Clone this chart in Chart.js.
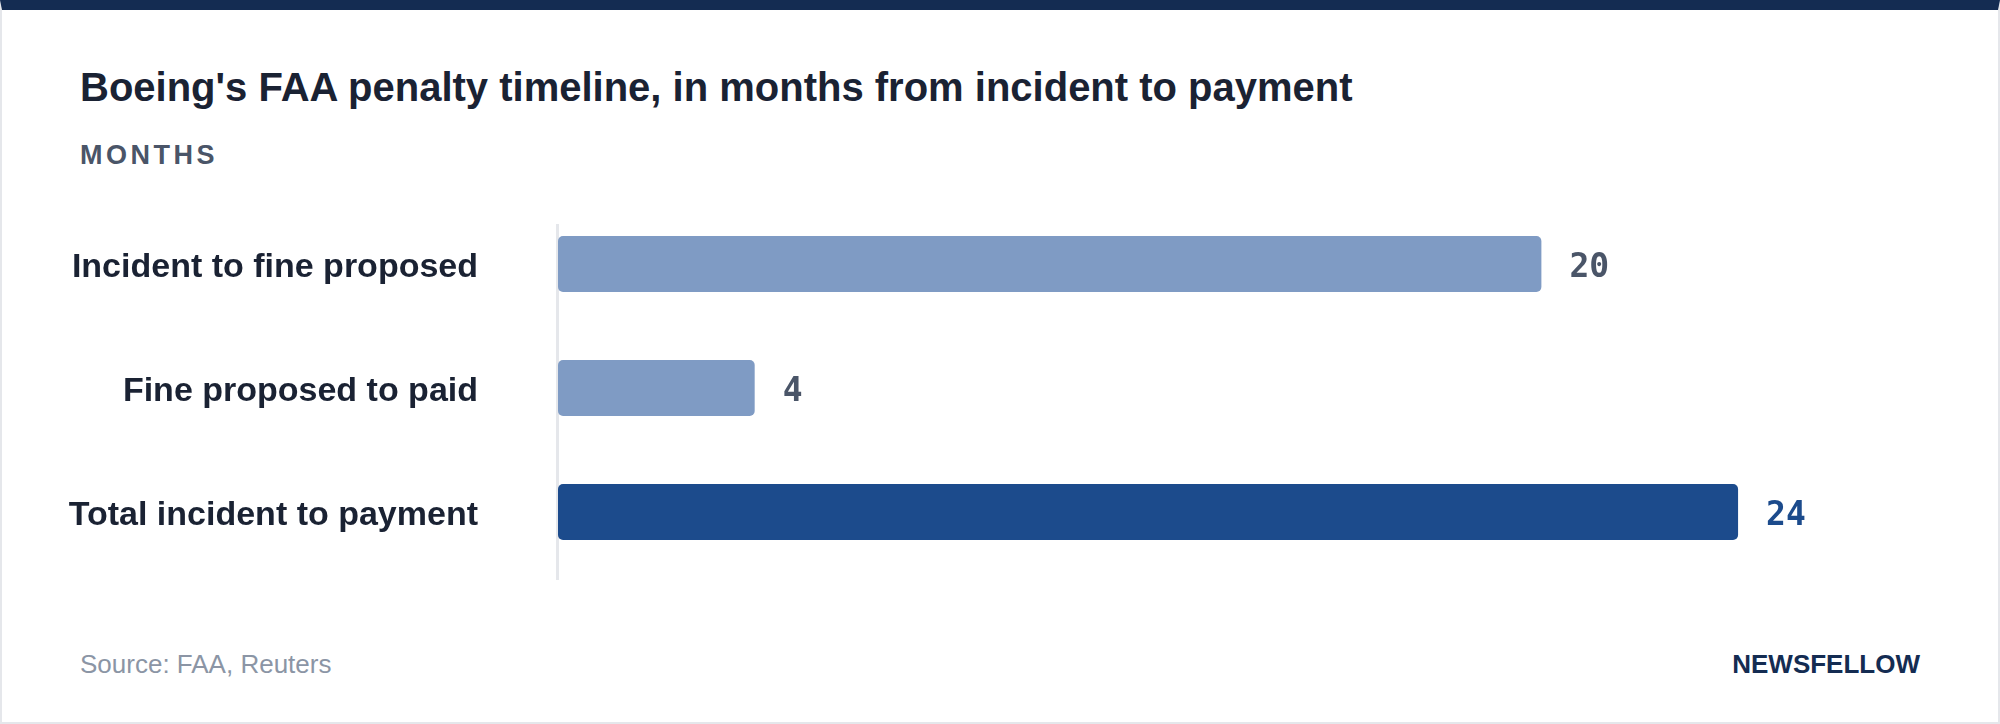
<!DOCTYPE html>
<html>
<head>
<meta charset="utf-8">
<script src="https://cdn.jsdelivr.net/npm/chart.js@4"></script>
<style>
  html, body { margin: 0; padding: 0; background: #fff; }
  .card {
    position: relative; width: 2000px; height: 724px; box-sizing: border-box;
    border: 2px solid #e5e7eb; border-top: 10px solid #142c52; background: #fff;
    font-family: "Liberation Sans", Arial, sans-serif; overflow: hidden;
  }
  .title { position: absolute; left: 78px; top: 57px; font-size: 40px; line-height: 40px; font-weight: 700; color: #1a2233; white-space: nowrap; }
  .sub { position: absolute; left: 78px; top: 132px; font-size: 27px; line-height: 27px; font-weight: 700; color: #4a5568; letter-spacing: 3.5px; }
  #penaltyChart { position: absolute; left: -2px; top: 180px; }
  .source { position: absolute; left: 78px; top: 641px; font-size: 26px; line-height: 26px; color: #8b95a5; }
  .brand { position: absolute; right: 78px; top: 641px; font-size: 26px; line-height: 26px; font-weight: 700; color: #142c52; }
</style>
</head>
<body>
<div class="card">
  <div class="title">Boeing's FAA penalty timeline, in months from incident to payment</div>
  <div class="sub">MONTHS</div>
  <canvas id="penaltyChart" width="2000" height="420"></canvas>
  <div class="source">Source: FAA, Reuters</div>
  <div class="brand">NEWSFELLOW</div>
</div>
<script>
const categories = ["Incident to fine proposed", "Fine proposed to paid", "Total incident to payment"];
const months = [20, 4, 24];

const barFill = ["#7f9bc4", "#7f9bc4", "#1c4b8c"];
const valueInk = ["#4a5568", "#4a5568", "#1c4b8c"];

// value at the end of each bar
const valueLabels = {
  id: "valueLabels",
  afterDatasetsDraw(chart) {
    const ctx = chart.ctx;
    const meta = chart.getDatasetMeta(0);
    ctx.save();
    ctx.font = "bold 33px 'DejaVu Sans Mono', monospace";
    ctx.textBaseline = "middle";
    ctx.textAlign = "left";
    meta.data.forEach((bar, i) => {
      ctx.fillStyle = valueInk[i];
      ctx.fillText(String(months[i]), bar.x + 28, bar.y + 4);
    });
    ctx.restore();
  }
};

// thin baseline on the left of the bars
const axisLine = {
  id: "axisLine",
  beforeDatasetsDraw(chart) {
    const { ctx, chartArea } = chart;
    ctx.save();
    ctx.strokeStyle = "#e5e7eb";
    ctx.lineWidth = 3;
    ctx.beginPath();
    ctx.moveTo(chartArea.left - 0.5, chartArea.top + 22);
    ctx.lineTo(chartArea.left - 0.5, chartArea.bottom + 6);
    ctx.stroke();
    ctx.restore();
  }
};

new Chart(document.getElementById("penaltyChart"), {
  type: "bar",
  data: {
    labels: categories,
    datasets: [{
      data: months,
      backgroundColor: barFill,
      borderRadius: 5,
      borderSkipped: false,
      categoryPercentage: 1,
      barPercentage: 0.45
    }]
  },
  options: {
    indexAxis: "y",
    responsive: false,
    animation: false,
    layout: { padding: { top: 12, bottom: 36, right: 80, left: 0 } },
    plugins: {
      legend: { display: false },
      tooltip: { enabled: false }
    },
    scales: {
      x: {
        display: false,
        min: 0,
        max: 27.7
      },
      y: {
        afterFit(scale) {
          scale.width = 558;
          scale.paddingTop = 0;
          scale.paddingBottom = 0;
        },
        grid: { display: false, drawTicks: false },
        border: { display: false },
        ticks: {
          padding: 80,
          labelOffset: 4,
          color: "#1a2233",
          font: { family: "'Liberation Sans', Arial, sans-serif", size: 34, weight: "bold" }
        }
      }
    }
  },
  plugins: [valueLabels, axisLine]
});
</script>
</body>
</html>
